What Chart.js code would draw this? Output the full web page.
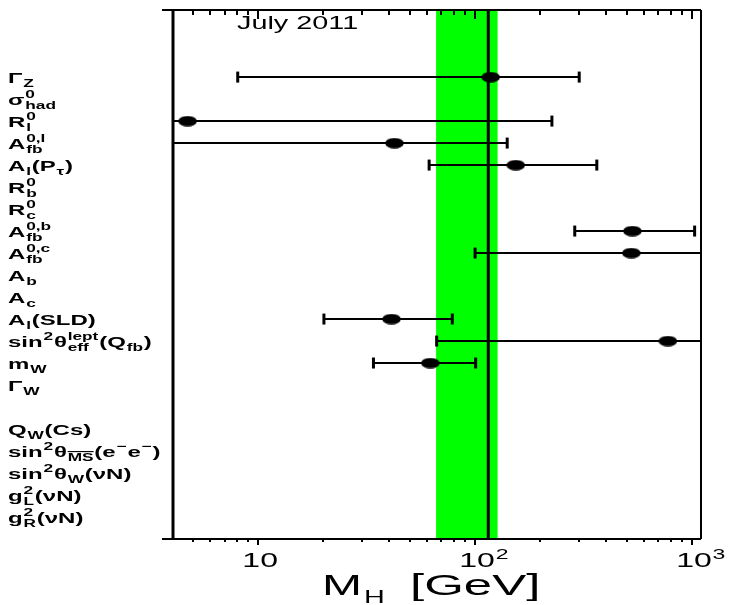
<!DOCTYPE html>
<html><head><meta charset="utf-8">
<script src="https://cdn.jsdelivr.net/npm/chart.js@4.4.0/dist/chart.umd.min.js"></script>
<style>html,body{margin:0;padding:0;background:#fff;overflow:hidden}#wrap{width:735px;height:605px;position:relative}</style>
</head><body><div id="wrap"><canvas id="c" width="735" height="605"></canvas></div>
<script>
// ---- data (M_H in GeV preferred by each observable) ----
const rowLabels = [
  [['n','Γ'],['sub','Z']],
  [['n','σ'],['ss','0','had']],
  [['n','R'],['ss','0','l']],
  [['n','A'],['ss','0,l','fb']],
  [['n','A'],['sub','l'],['n','(P'],['sub','τ'],['n',')']],
  [['n','R'],['ss','0','b']],
  [['n','R'],['ss','0','c']],
  [['n','A'],['ss','0,b','fb']],
  [['n','A'],['ss','0,c','fb']],
  [['n','A'],['sub','b']],
  [['n','A'],['sub','c']],
  [['n','A'],['sub','l'],['n','(SLD)']],
  [['n','sin'],['sup','2'],['n','θ'],['ss','lept','eff'],['n','(Q'],['sub','fb'],['n',')']],
  [['n','m'],['sub','W']],
  [['n','Γ'],['sub','W']],
  [],
  [['n','Q'],['sub','W'],['n','(Cs)']],
  [['n','sin'],['sup','2'],['n','θ'],['ol','MS'],['n','(e'],['sup','−'],['n','e'],['sup','−'],['n',')']],
  [['n','sin'],['sup','2'],['n','θ'],['sub','W'],['n','(νN)']],
  [['n','g'],['ss','2','L'],['n','(νN)']],
  [['n','g'],['ss','2','R'],['n','(νN)']]
];
const mhCentral = [118, null, 4.73, 42.5, 154, null, null, 531, 525, null, null, 41.2, 774, 62.2, null, null, null, null, null, null, null];
const mhLow     = [8.05, null, 2.0, 2.0, 61.4, null, null, 288, 100, null, null, 20.1, 66.5, 34.0, null, null, null, null, null, null, null];
const mhHigh    = [302, null, 226, 140.6, 364, null, null, 1028, 3000, null, null, 78.5, 3000, 100.6, null, null, null, null, null, null, null];
const bandLow = 66.1, bandHigh = 127, fitValue = 115;
const xMajorTicks = [10, 100, 1000];
const xTickLabels = [['10',''],['10','2'],['10','3']];
const xMinorTicks = [5,6,7,8,9,20,30,40,50,60,70,80,90,200,300,400,500,600,700,800,900];
const xMin = 4.05, xMax = 1100;
const titleText = 'July 2011';

const FAMILY = '"Liberation Sans", Arial, Helvetica, sans-serif';
const STRETCH = 1.6;

// ellipse marker
const marker = document.createElement('canvas');
marker.width = 19; marker.height = 11;
(function(){const m=marker.getContext('2d');m.fillStyle='#000';m.beginPath();m.ellipse(9.5,5.5,9.3,5.3,0,0,Math.PI*2);m.fill();})();

const datasets = [];
// green band
datasets.push({data:[{x:bandLow,y:-10},{x:bandHigh,y:-10},{x:bandHigh,y:30},{x:bandLow,y:30}],
  showLine:true, fill:'shape', backgroundColor:'#00ff00', borderColor:'rgba(0,0,0,0)', borderWidth:0, pointRadius:0, order:10});
// fit line
datasets.push({data:[{x:fitValue,y:-10},{x:fitValue,y:30}], showLine:true, borderColor:'#000', borderWidth:3, pointRadius:0, order:9});
// error bars
for (let i=0;i<mhCentral.length;i++){
  if (mhCentral[i]==null) continue;
  datasets.push({data:[{x:mhLow[i],y:i},{x:mhHigh[i],y:i}], showLine:true, borderColor:'#000', borderWidth:2,
    pointStyle:'line', rotation:90, pointRadius:5.5, pointBorderWidth:3, pointBorderColor:'#000', order:2});
}
// central points
datasets.push({data:mhCentral.map((v,i)=>v==null?null:{x:v,y:i}).filter(p=>p), pointStyle:marker, pointRadius:9, order:0});

function drawRich(ctx, parts, x, base, size, S, weight){
  const small=size*0.72;
  const fM=`${weight} ${size}px ${FAMILY}`, fS=`${weight} ${small}px ${FAMILY}`;
  let cx=0;
  ctx.save(); ctx.translate(x,base); ctx.scale(S,1);
  ctx.fillStyle='#000'; ctx.textAlign='left'; ctx.textBaseline='alphabetic';
  for (const p of parts){
    const k=p[0];
    if(k==='n'){ctx.font=fM;ctx.fillText(p[1],cx,0);cx+=ctx.measureText(p[1]).width;}
    else if(k==='sub'){ctx.font=fS;ctx.fillText(p[1],cx+0.5,size*0.3);cx+=ctx.measureText(p[1]).width+1;}
    else if(k==='sup'){ctx.font=fS;ctx.fillText(p[1],cx+0.5,-size*0.42);cx+=ctx.measureText(p[1]).width+1;}
    else if(k==='ss'){ctx.font=fS;const a=ctx.measureText(p[1]).width,b=ctx.measureText(p[2]).width;
      ctx.fillText(p[1],cx+0.5,-size*0.42);ctx.fillText(p[2],cx+0.5,size*0.3);cx+=Math.max(a,b)+1;}
    else if(k==='ol'){ctx.font=fS;const w=ctx.measureText(p[1]).width;ctx.fillText(p[1],cx+0.5,size*0.3);
      ctx.fillRect(cx+0.5,size*0.3-small*0.72-2.2,w,1.1);cx+=w+1;}
  }
  ctx.restore();
  return cx*S;
}

const decor = {
  id:'decor',
  afterDatasetsDraw(chart){
    const ctx=chart.ctx, a=chart.chartArea, xs=chart.scales.x, ys=chart.scales.y;
    ctx.save();
    ctx.strokeStyle='#000';ctx.fillStyle='#000';
    // frame
    ctx.lineWidth=2;
    ctx.beginPath();ctx.moveTo(162,a.top);ctx.lineTo(a.right,a.top);ctx.stroke();
    ctx.beginPath();ctx.moveTo(162,a.bottom);ctx.lineTo(a.right,a.bottom);ctx.stroke();
    ctx.beginPath();ctx.moveTo(a.right,a.top);ctx.lineTo(a.right,a.bottom);ctx.stroke();
    ctx.lineWidth=3;
    ctx.beginPath();ctx.moveTo(a.left,a.top-1);ctx.lineTo(a.left,a.bottom+1);ctx.stroke();
    // ticks
    ctx.lineWidth=2;
    for(const v of xMinorTicks){const px=Math.round(xs.getPixelForValue(v));
      ctx.beginPath();ctx.moveTo(px,a.top);ctx.lineTo(px,a.top+5);ctx.stroke();
      ctx.beginPath();ctx.moveTo(px,a.bottom);ctx.lineTo(px,a.bottom+3);ctx.stroke();}
    for(const v of xMajorTicks){const px=Math.round(xs.getPixelForValue(v));
      ctx.beginPath();ctx.moveTo(px,a.top);ctx.lineTo(px,a.top+9);ctx.stroke();
      ctx.beginPath();ctx.moveTo(px,a.bottom);ctx.lineTo(px,a.bottom+6);ctx.stroke();}
    ctx.restore();
    // tick labels
    xMajorTicks.forEach((v,i)=>{
      const px=xs.getPixelForValue(v);
      ctx.save();ctx.font=`20px ${FAMILY}`;const w=ctx.measureText(xTickLabels[i][0]).width*STRETCH;ctx.restore();
      const parts=[['n',xTickLabels[i][0]]];
      if(xTickLabels[i][1]) parts.push(['sup',xTickLabels[i][1]]);
      drawRich(ctx,parts,px+2-w/2,567,20,STRETCH,'normal');
    });
    // axis title
    const tx=322;
    const w1=drawRich(ctx,[['n','M']],tx,595,30,STRETCH,'normal');
    drawRich(ctx,[['n','H']],tx+w1+2,603,18,STRETCH,'normal');
    drawRich(ctx,[['n','[GeV]']],410,595,30,1.7,'normal');
    // header
    drawRich(ctx,[['n',titleText]],237,29,18,STRETCH,'normal');
    // row labels
    rowLabels.forEach((parts,i)=>{ if(!parts.length) return;
      drawRich(ctx,parts,8,ys.getPixelForValue(i)+5.5,15,STRETCH,'bold');});
  }
};

new Chart(document.getElementById('c'),{
  type:'scatter',
  data:{datasets},
  options:{
    responsive:false, animation:false, devicePixelRatio:1,
    layout:{padding:{left:173,right:34,top:3,bottom:66}},
    plugins:{legend:{display:false},tooltip:{enabled:false}},
    scales:{
      x:{type:'logarithmic',min:xMin,max:xMax,display:false},
      y:{type:'linear',min:-3.05,max:21,reverse:true,display:false}
    }
  },
  plugins:[decor]
});
</script></body></html>
